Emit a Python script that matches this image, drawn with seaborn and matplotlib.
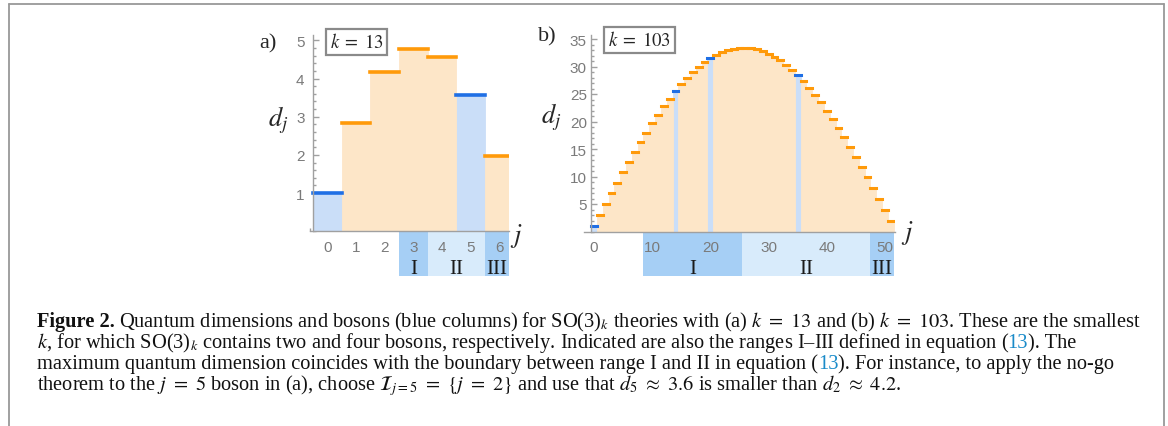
import numpy as np
import pandas as pd
import seaborn as sns
import matplotlib.pyplot as plt
from matplotlib.lines import Line2D
from matplotlib.patches import Rectangle
from matplotlib.ticker import MultipleLocator
from matplotlib.transforms import IdentityTransform

# data
k13_j = [0, 1, 2, 3, 4, 5, 6]
k13_d = [1.00, 2.83, 4.17, 4.78, 4.57, 3.57, 1.96]
k13_bosons = [0, 5]
k13_bounds = [2.5, 3.5, 5.5, 6.35]

k103_j = list(range(52))
k103_d = [1.00, 3.00, 4.98, 6.95, 8.89, 10.80, 12.68, 14.50, 16.28, 18.00,
          19.65, 21.23, 22.74, 24.16, 25.50, 26.75, 27.90, 28.95, 29.90, 30.74,
          31.47, 32.09, 32.59, 32.98, 33.25, 33.39, 33.43, 33.34, 33.13, 32.80,
          32.35, 31.79, 31.12, 30.33, 29.44, 28.44, 27.34, 26.14, 24.84, 23.46,
          21.99, 20.45, 18.83, 17.15, 15.40, 13.60, 11.75, 9.85, 7.93, 5.97,
          3.99, 2.00]
k103_bosons = [0, 14, 20, 35]
k103_bounds = [8.5, 25.5, 47.5, 51.5]

range_names = ["I", "II", "III"]

ORANGE = "#ff9a0a"
ORANGE_FILL = "#fde6c8"
BLUE = "#1f6fe5"
BLUE_FILL = "#cadef8"
RANGE_DARK = "#a6cff5"
RANGE_LIGHT = "#d8ebfb"
AXIS = "#a0a0a0"
TICKTXT = "#7a7a7a"

W, H = 1168, 427

sns.set_theme(style="white")
plt.rcParams["font.family"] = ["Liberation Serif", "DejaVu Serif"]
plt.rcParams["mathtext.fontset"] = "stix"

fig = plt.figure(figsize=(W / 100, H / 100), dpi=100)


def px(x, y):
    return x / W, 1 - y / H


def draw_panel(ax, js, d, bosons, bounds, lw, xmaj, xmin, ymaj, ymin, ypad):
    kind = ["boson" if j in bosons else "other" for j in js]
    df = pd.DataFrame({"j": js, "d": d, "kind": kind})
    sns.barplot(data=df, x="j", y="d", hue="kind",
                palette={"boson": BLUE_FILL, "other": ORANGE_FILL},
                width=1, native_scale=True, dodge=False, legend=False,
                saturation=1, errorbar=None, ax=ax)
    for p in ax.patches:
        p.set_edgecolor(p.get_facecolor())
        p.set_linewidth(0.6)
    segs = ax.hlines(df["d"], df["j"] - 0.5, df["j"] + 0.5,
                     colors=[BLUE if k == "boson" else ORANGE for k in kind],
                     linewidth=lw, zorder=3)
    segs.set_capstyle("projecting")

    ax.set(xlabel="", ylabel="")
    sns.despine(ax=ax)
    ax.spines["left"].set_position(("data", -0.5))
    for s in ["left", "bottom"]:
        ax.spines[s].set_color(AXIS)
        ax.spines[s].set_linewidth(1.0)
        ax.spines[s].set_zorder(4)
    ax.set_facecolor("none")
    ax.xaxis.set_major_locator(MultipleLocator(xmaj))
    ax.xaxis.set_minor_locator(MultipleLocator(xmin))
    ax.yaxis.set_major_locator(MultipleLocator(ymaj))
    ax.yaxis.set_minor_locator(MultipleLocator(ymin))
    ax.tick_params(which="both", direction="in", bottom=True, left=True,
                   color=AXIS, width=1.0, labelcolor=TICKTXT, labelsize=11,
                   labelfontfamily="Liberation Sans")
    ax.tick_params(which="major", length=4)
    ax.tick_params(which="minor", length=2)
    ax.tick_params(axis="x", pad=6)
    ax.tick_params(axis="y", pad=ypad)

    # ranges I-III under the axis
    tr = ax.get_xaxis_transform()
    cols = [RANGE_DARK, RANGE_LIGHT, RANGE_DARK]
    for x0, x1, c, name in zip(bounds[:-1], bounds[1:], cols, range_names):
        ax.add_patch(Rectangle((x0, -0.229), x1 - x0, 0.229, transform=tr,
                               facecolor=c, edgecolor="none", clip_on=False,
                               zorder=0))
        ax.text((x0 + x1) / 2, -0.213, name, transform=tr, ha="center",
                va="baseline", fontsize=15, color="#1a1a1a", clip_on=False)


# panel a
ax_a = fig.add_axes([309.5 / W, 1 - 232.3 / H, 199.9 / W, 196.7 / H])
draw_panel(ax_a, k13_j, k13_d, k13_bosons, k13_bounds, 2.6, 1, 0.2, 1, 0.2, 6)
ax_a.set_xlim(-0.62, 6.35)
ax_a.set_ylim(0, 5.15)
ax_a.set_yticks([1, 2, 3, 4, 5])

# panel b
ax_b = fig.add_axes([584.1 / W, 1 - 232.5 / H, 310.8 / W, 196.35 / H])
draw_panel(ax_b, k103_j, k103_d, k103_bosons, k103_bounds, 2.2, 10, 2, 5, 1, 3)
ax_b.set_xlim(-1.7, 51.7)
ax_b.set_ylim(0, 35.7)
ax_b.set_yticks([5, 10, 15, 20, 25, 30, 35])

# labels
fig.text(*px(268, 44), "a)", ha="center", va="center", fontsize=16)
fig.text(*px(547, 37), "b)", ha="center", va="center", fontsize=16)
fig.text(*px(278, 120), "$d_j$", ha="center", va="center", fontsize=19)
fig.text(*px(551, 117), "$d_j$", ha="center", va="center", fontsize=19)
fig.text(*px(516.5, 236), "$j$", ha="center", va="center", fontsize=19)
fig.text(*px(907.5, 233), "$j$", ha="center", va="center", fontsize=19)
kbox = dict(boxstyle="square,pad=0.2", facecolor="white", edgecolor="#8a8a8a",
            linewidth=1.6)
fig.text(*px(356.5, 43), "$k\\;=\\;13$", ha="center", va="center",
         fontsize=13.5, bbox=kbox)
fig.text(*px(639.7, 41), "$k\\;=\\;103$", ha="center", va="center",
         fontsize=13.5, bbox=kbox)

# outer frame
for xs, ys in [([9, 9], [430, 5]), ([9, 1164], [5, 5]), ([1164, 1164], [5, 430])]:
    fig.add_artist(Line2D([x / W for x in xs], [1 - y / H for y in ys],
                          color="#999999", linewidth=1.3))

# caption
CAP = 14.65
LINK = "#1a8bc9"
renderer = fig.canvas.get_renderer()


def put_line(x, y, chunks):
    for s, kw, gap in chunks:
        opts = {"color": "#111111", "fontsize": CAP, "va": "baseline"}
        opts.update(kw)
        t = fig.text(x, H - y, s, transform=IdentityTransform(), **opts)
        x = t.get_window_extent(renderer).x1 + gap


put_line(37, 327, [
    ("Figure 2.", {"fontweight": "bold"}, 4),
    ("Quantum dimensions and bosons (blue columns) for SO(3)$_k$ theories with "
     "(a) $k\\ =\\ 13$ and (b) $k\\ =\\ 103$. These are the smallest", {}, 0)])
put_line(37, 348, [
    ("$k$, for which SO(3)$_k$ contains two and four bosons, respectively. "
     "Indicated are also the ranges I–III defined in equation (", {}, -2),
    ("13", {"color": LINK}, 0),
    ("). The", {}, 0)])
put_line(37, 369, [
    ("maximum quantum dimension coincides with the boundary between range I "
     "and II in equation (", {}, 0),
    ("13", {"color": LINK}, 0),
    ("). For instance, to apply the no-go", {}, 0)])
put_line(37, 390, [
    ("theorem to the $j\\ =\\ 5$ boson in (a), choose $\\mathcal{I}_{j=5}\\ =\\ "
     "\\{j\\ =\\ 2\\}$ and use that $d_5\\ \\approx\\ 3.6$ is smaller than "
     "$d_2\\ \\approx\\ 4.2$.", {}, 0)])

fig.savefig("out.png", dpi=100)
